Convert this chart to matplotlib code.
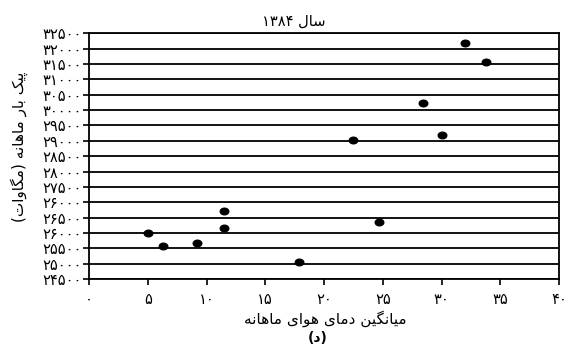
import matplotlib
matplotlib.use("Agg")
import matplotlib.pyplot as plt
import numpy as np
from matplotlib.path import Path

# Monthly mean air temperature (deg C) and monthly peak load (MW), year 1384
temperature = [5.05, 6.3, 9.2, 11.45, 11.5, 17.9, 24.7, 22.5, 30.05, 28.4, 32.0, 33.8]
peak_load = [26000, 25580, 25680, 26700, 26150, 25060, 26340, 29010, 29180, 30240, 32170, 31550]

x_ticks = [0, 5, 10, 15, 20, 25, 30, 35, 40]
x_tick_labels = ["۰", "۵", "۱۰", "۱۵", "۲۰", "۲۵", "۳۰", "۳۵", "۴۰"]
y_ticks = list(range(24500, 32501, 500))
y_tick_labels = ["۲۴۵۰۰", "۲۵۰۰۰", "۲۵۵۰۰", "۲۶۰۰۰", "۲۶۵۰۰", "۲۶۰۰۰", "۲۷۵۰۰",
                 "۲۸۰۰۰", "۲۸۵۰۰", "۲۹۰۰۰", "۲۹۵۰۰", "۳۰۰۰۰", "۳۰۵۰۰", "۳۱۰۰۰",
                 "۳۱۵۰۰", "۳۲۰۰۰", "۳۲۵۰۰"]

title_text = "سال ۱۳۸۴"
xlabel_text = "میانگین دمای هوای ماهانه"
ylabel_text = "پیک بار ماهانه (مگاوات)"
panel_text = "(د)"

# Contextual forms: isolated, final, initial, medial
FORMS = {
    'ا': ('\uFE8D', '\uFE8E', None, None),
    'ب': ('\uFE8F', '\uFE90', '\uFE91', '\uFE92'),
    'پ': ('\uFB56', '\uFB57', '\uFB58', '\uFB59'),
    'ت': ('\uFE95', '\uFE96', '\uFE97', '\uFE98'),
    'د': ('\uFEA9', '\uFEAA', None, None),
    'ر': ('\uFEAD', '\uFEAE', None, None),
    'س': ('\uFEB1', '\uFEB2', '\uFEB3', '\uFEB4'),
    'ک': ('\uFB8E', '\uFB8F', '\uFB90', '\uFB91'),
    'گ': ('\uFB92', '\uFB93', '\uFB94', '\uFB95'),
    'ل': ('\uFEDD', '\uFEDE', '\uFEDF', '\uFEE0'),
    'م': ('\uFEE1', '\uFEE2', '\uFEE3', '\uFEE4'),
    'ن': ('\uFEE5', '\uFEE6', '\uFEE7', '\uFEE8'),
    'ه': ('\uFEE9', '\uFEEA', '\uFEEB', '\uFEEC'),
    'و': ('\uFEED', '\uFEEE', None, None),
    'ی': ('\uFBFC', '\uFBFD', '\uFBFE', '\uFBFF'),
}
MIRROR = {'(': ')', ')': '('}


def shape(s):
    out = []
    for i, ch in enumerate(s):
        if ch not in FORMS:
            out.append(ch)
            continue
        prev = s[i - 1] if i > 0 else ''
        nxt = s[i + 1] if i + 1 < len(s) else ''
        join_prev = prev in FORMS and FORMS[prev][2] is not None
        join_next = nxt in FORMS and FORMS[ch][2] is not None
        iso, fin, ini, med = FORMS[ch]
        if join_prev and join_next:
            out.append(med)
        elif join_prev:
            out.append(fin)
        elif join_next:
            out.append(ini)
        else:
            out.append(iso)
    return ''.join(out)


def rtl(s):
    shaped = shape(s)
    segments = []
    for ch in shaped:
        is_digit = '\u06F0' <= ch <= '\u06F9'
        if is_digit and segments and segments[-1][0]:
            segments[-1][1].append(ch)
        else:
            segments.append((is_digit, [ch]))
    segments.reverse()
    return ''.join(''.join(chars) if d else MIRROR.get(chars[0], chars[0])
                   for d, chars in segments)


plt.rcParams['font.family'] = ['DejaVu Sans']

fig = plt.figure(figsize=(5.69, 3.51), dpi=100)
ax = fig.add_axes([89 / 569, 1 - 279 / 351, 470 / 569, (279 - 33.3) / 351])

# slightly wide elliptical dot
t = np.linspace(0, 2 * np.pi, 40)
ell = Path(np.column_stack([1.3 * np.cos(t), np.sin(t)]), closed=True)

for y in y_ticks:
    ax.axhline(y, color='black', lw=1.3, zorder=1)

ax.scatter(temperature, peak_load, marker=ell, s=38, color='black', zorder=3)

ax.set_xlim(0, 40)
ax.set_ylim(24500, 32500)
ax.set_xticks(x_ticks)
ax.set_xticklabels(x_tick_labels, fontsize=10.5)
ax.set_yticks(y_ticks)
ax.set_yticklabels(y_tick_labels, fontsize=10.5)
ax.tick_params(axis='both', direction='out', length=4, width=1.2, color='black')
ax.tick_params(axis='x', pad=5)
ax.tick_params(axis='y', pad=1)
for sp in ax.spines.values():
    sp.set_color('black')
    sp.set_linewidth(1.3)

fig.text(294 / 569, 1 - 21 / 351, rtl(title_text), ha='center', va='center', fontsize=10.5)
fig.text(325 / 569, 1 - 319 / 351, rtl(xlabel_text), ha='center', va='center', fontsize=11)
fig.text(318 / 569, 1 - 338 / 351, rtl(panel_text), ha='center', va='center',
         fontsize=10, fontweight='bold')
fig.text(19 / 569, 1 - 147 / 351, rtl(ylabel_text), ha='center', va='center',
         rotation=90, fontsize=11)

fig.savefig('out.png', dpi=100)
